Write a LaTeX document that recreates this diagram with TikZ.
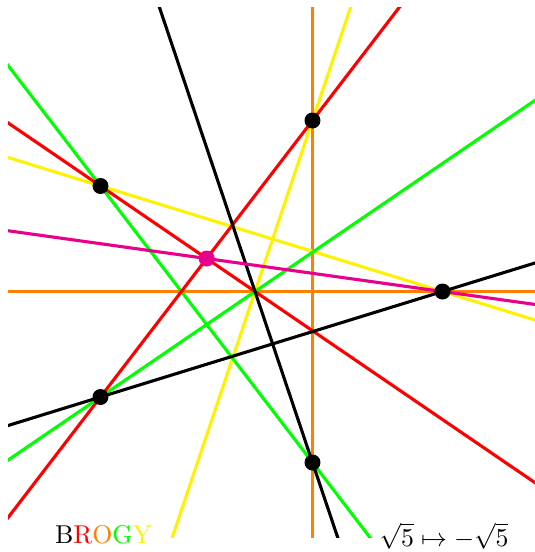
\documentclass[tikz,border=0pt]{standalone}
\usetikzlibrary{calc}
\definecolor{mymag}{RGB}{232,0,140}
\begin{document}
\begin{tikzpicture}[x=0.3876pt,y=-0.3876pt,
  ln/.style={line width=1.2pt},
  dot/.style={circle,fill=black,inner sep=0pt,minimum size=6.2pt}]
\useasboundingbox (0,0) rectangle (535,552);
\coordinate (C) at (255,291.5);
\coordinate (A) at (312.5,120.5);
\coordinate (F) at (312.5,462.5);
\coordinate (B) at (100.5,186);
\coordinate (E) at (100.5,397);
\coordinate (D) at (442.5,291.5);
\coordinate (M) at (intersection of B--C and E--A);
\begin{scope}
\clip (8,7) rectangle (535,537);
\draw[ln,orange] ($(C)!-10!(D)$) -- ($(D)!-10!(C)$);
\draw[ln,orange] ($(A)!-10!(F)$) -- ($(F)!-10!(A)$);
\draw[ln,yellow] ($(B)!-10!(D)$) -- ($(D)!-10!(B)$);
\draw[ln,yellow] ($(A)!-10!(C)$) -- ($(C)!-10!(A)$);
\draw[ln,green] ($(B)!-10!(F)$) -- ($(F)!-10!(B)$);
\draw[ln,green] ($(E)!-10!(C)$) -- ($(C)!-10!(E)$);
\draw[ln,red] ($(E)!-10!(A)$) -- ($(A)!-10!(E)$);
\draw[ln,red] ($(B)!-10!(C)$) -- ($(C)!-10!(B)$);
\draw[ln,black] ($(F)!-10!(C)$) -- ($(C)!-10!(F)$);
\draw[ln,black] ($(E)!-10!(D)$) -- ($(D)!-10!(E)$);
\draw[ln,mymag] ($(M)!-10!(D)$) -- ($(D)!-10!(M)$);
\end{scope}
\node[dot] (dA) at (A) {};
\node[dot] (dB) at (B) {};
\node[dot] (dD) at (D) {};
\node[dot] (dE) at (E) {};
\node[dot] (dF) at (F) {};
\node[dot,fill=mymag] (dM) at (M) {};
\node[anchor=base,inner sep=0pt] (t1) at (103.5,543) {B\textcolor{red}{R}\textcolor{orange}{O}\textcolor{green}{G}\textcolor{yellow}{Y}};
\node[anchor=base,inner sep=0pt] (t2) at (444,546) {$\sqrt5\mapsto-\sqrt5$};
\end{tikzpicture}
\end{document}
